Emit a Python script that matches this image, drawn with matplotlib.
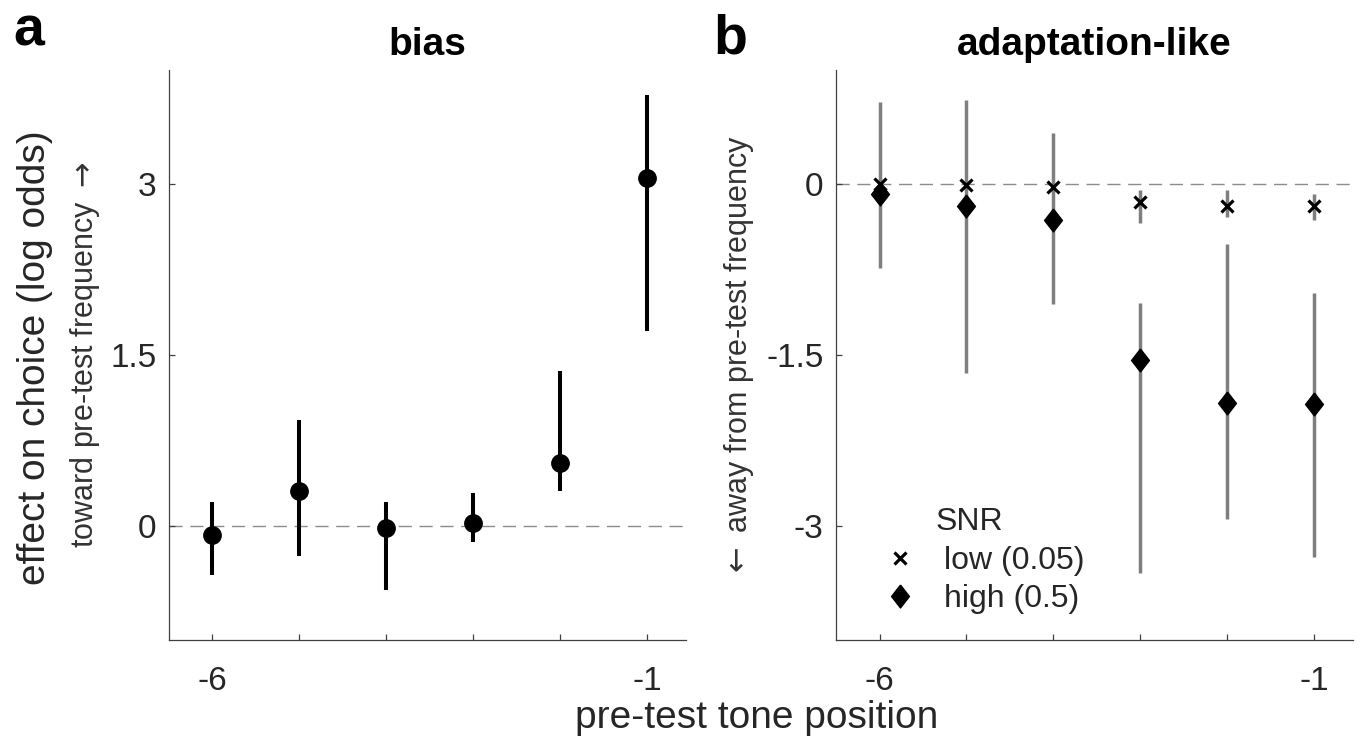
import numpy as np
import matplotlib
matplotlib.use("Agg")
import matplotlib.pyplot as plt

plt.rcParams['font.family'] = ['Liberation Sans', 'DejaVu Sans']

positions = [-6, -5, -4, -3, -2, -1]

# panel a: bias
bias_mean = [-0.08, 0.31, -0.02, 0.03, 0.55, 3.05]
bias_hi = [0.21, 0.93, 0.21, 0.29, 1.36, 3.78]
bias_lo = [-0.43, -0.26, -0.56, -0.14, 0.31, 1.71]

# panel b: adaptation-like, two SNR levels
low_mean = [0.0, -0.01, -0.03, -0.16, -0.19, -0.19]
low_hi = [0.04, 0.03, 0.01, -0.05, -0.05, -0.09]
low_lo = [-0.04, -0.05, -0.07, -0.34, -0.29, -0.32]
high_mean = [-0.09, -0.19, -0.32, -1.54, -1.92, -1.93]
high_hi = [0.72, 0.74, 0.45, -1.04, -0.53, -0.96]
high_lo = [-0.74, -1.66, -1.05, -3.41, -2.94, -3.27]

txt = '#262626'
gray = '#7f7f7f'
diamond = [(0, 1), (0.78, 0), (0, -1), (-0.78, 0), (0, 1)]

fig = plt.figure(figsize=(13.63, 7.38), dpi=100)
axa = fig.add_axes([0.124, 0.1328, 0.3793, 0.7724])
axb = fig.add_axes([0.6134, 0.1328, 0.3793, 0.7724])

def yerr(m, lo, hi):
    m = np.array(m)
    return [m - np.array(lo), np.array(hi) - m]

for ax in (axa, axb):
    ax.axhline(0, color='#8c8c8c', lw=1.0, ls=(0, (9.5, 5.5)), zorder=0)
    ax.spines['top'].set_visible(False)
    ax.spines['right'].set_visible(False)
    for s in ('left', 'bottom'):
        ax.spines[s].set_color('#404040')
        ax.spines[s].set_linewidth(0.9)
    ax.set_xlim(-6.5, -0.55)
    ax.set_xticks(positions)
    ax.set_xticklabels(['-6', '', '', '', '', '-1'])
    ax.tick_params(direction='in', length=4, width=0.9, colors='#404040',
                   labelcolor=txt, labelsize=24)
    ax.tick_params(axis='x', pad=19)
    ax.tick_params(axis='y', pad=9)

axa.errorbar(positions, bias_mean, yerr=yerr(bias_mean, bias_lo, bias_hi),
             fmt='o', color='black', ms=12.5, elinewidth=2.9, capsize=0)
axa.set_ylim(-1, 4)
axa.set_yticks([0, 1.5, 3])
axa.set_yticklabels(['0', '1.5', '3'])

axb.errorbar(positions, high_mean, yerr=yerr(high_mean, high_lo, high_hi),
             fmt='none', ecolor=gray, elinewidth=2.5, capsize=0)
axb.errorbar(positions, low_mean, yerr=yerr(low_mean, low_lo, low_hi),
             fmt='none', ecolor=gray, elinewidth=2.5, capsize=0)
axb.plot(positions, low_mean, 'x', color='black', ms=8.5, mew=2.3, ls='none',
         label='low (0.05)')
axb.plot(positions, high_mean, marker=diamond, color='black', ms=16.5, ls='none',
         label='high (0.5)')
axb.set_ylim(-4, 1)
axb.set_yticks([-3, -1.5, 0])
axb.set_yticklabels(['-3', '-1.5', '0'])

leg = axb.legend(loc='center left', bbox_to_anchor=(0.086, 0.105),
                 frameon=False, fontsize=23, handlelength=0.8,
                 handletextpad=1.0, labelspacing=0.25, borderpad=0.2,
                 borderaxespad=0)
for t in leg.get_texts():
    t.set_color(txt)
axb.text(0.193, 0.207, 'SNR', transform=axb.transAxes, fontsize=23,
         color=txt, va='center', ha='left')

# titles and panel letters
fig.text(0.124 + 0.3793 / 2, 0.925, 'bias', fontsize=28, fontweight='bold',
         ha='center', va='baseline')
fig.text(0.6134 + 0.3793 / 2, 0.925, 'adaptation-like', fontsize=28,
         fontweight='bold', ha='center', va='baseline')
fig.text(0.010, 1 - 45 / 738, 'a', fontsize=40, fontweight='bold', va='baseline')
fig.text(0.523, 1 - 54 / 738, 'b', fontsize=40, fontweight='bold', va='baseline')

# axis labels
fig.text(0.0257, 0.516, 'effect on choice (log odds)', rotation=90,
         fontsize=28, color=txt, ha='center', va='center')
fig.text(0.0624, 0.519, r'toward pre-test frequency $\rightarrow$', rotation=90,
         fontsize=22, color='#333333', ha='center', va='center')
fig.text(0.542, 0.517, r'$\leftarrow$ away from pre-test frequency', rotation=90,
         fontsize=22, color='#333333', ha='center', va='center')
fig.text(0.555, 1 - 728 / 738, 'pre-test tone position', fontsize=28,
         color=txt, ha='center', va='baseline')

fig.savefig('out.png', dpi=100)
